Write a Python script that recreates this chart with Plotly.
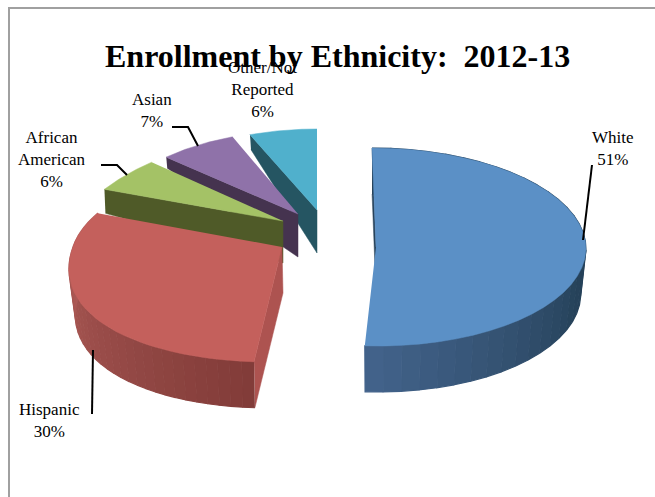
import math
import plotly.graph_objects as go

# Enrollment shares, clockwise from twelve o'clock
categories = ["White", "Hispanic", "African<br>American", "Asian", "Other/Not<br>Reported"]
shares = [51, 30, 6, 7, 6]
share_labels = ["51%", "30%", "6%", "7%", "6%"]

# Exploded-slice geometry for the tilted view
apex_x = [376, 282, 283, 298, 317]
apex_y = [247, 247, 221, 214, 210]
radius_x = [210, 209, 206, 189, 182]
radius_back = [99, 92, 86, 83, 81]
radius_front = [99, 115, 115, 115, 115]
skew_back = [-4, 0, 0, 0, 0]
skew_front = [-2, 13, 0, 0, 0]
foreshorten = [0.0, 0.14, 0.184, 0.064, 0.0]
wall_near = [46, 46, 42, 43, 43]
wall_far = [46, 46, 24, 11, 15]
ring_inset = [0.975, 0.97, 1.0, 1.0, 1.0]

top_colors = ["#5b90c6", "#c4605c", "#a4c266", "#8f72a9", "#50b0cc"]
cut_colors = ["#28435b", "#ad5350", "#4f5a28", "#45334f", "#255562"]
wall_left = [(66, 98, 138), (184, 98, 94)]
wall_right = [(38, 66, 90), (130, 60, 57)]
wall_fade = [0.42, 1.0]

# Label text placement and leader polylines
label_x = [613, 49, 52, 152, 262]
label_y = [148, 420, 159, 110, 89]
leader_x = [[592, 583], [92, 93], [101, 117, 127], [172, 188, 198], []]
leader_y = [[165, 240], [414, 350], [165, 165, 175], [127, 127, 146], []]

frame_x = [9, 9, 655]
frame_y = [497, 8, 8]


def project(i, theta, inset=1.0, drop=0.0):
    s, c = math.sin(theta), math.cos(theta)
    ry = radius_back[i] if c > 0 else radius_front[i]
    sk = skew_back[i] if c > 0 else skew_front[i]
    x = apex_x[i] + inset * (radius_x[i] * s * (1 - foreshorten[i] * c) + sk * c)
    y = apex_y[i] - ry * c + drop
    return x, y


def polygon(xs, ys, color, stroke=0.5):
    return go.Scatter(x=xs, y=ys, mode="lines", fill="toself", fillcolor=color,
                      line=dict(color=color, width=stroke), hoverinfo="skip", showlegend=False)


fig = go.Figure()
total = sum(shares)
angles = [0.0]
for v in shares:
    angles.append(angles[-1] + v / total * 2 * math.pi)

for i in [4, 3, 2, 0, 1]:
    a0, a1 = angles[i], angles[i + 1]
    n = 36
    arc = [a0 + (a1 - a0) * k / n for k in range(n + 1)]
    near, far = wall_near[i], wall_far[i]
    inset = ring_inset[i]

    # Flat cut face behind or beside the top surface
    tx, ty = project(i, a0)
    if i < 2:
        bx, by = project(i, a0, inset, near)
    else:
        bx, by = tx + 1, ty + far
    fig.add_trace(polygon([tx, apex_x[i], apex_x[i] + (1 if i == 1 else 0), bx],
                          [ty, apex_y[i], apex_y[i] + near, by], cut_colors[i]))

    # Banded outer wall on the two large slices
    if i < 2:
        for k in range(n):
            t0, t1 = arc[k], arc[k + 1]
            x0, y0 = project(i, t0)
            x1, y1 = project(i, t1)
            x2, y2 = project(i, t1, inset, near)
            x3, y3 = project(i, t0, inset, near)
            frac = min((1 - k / (n - 1)) / wall_fade[i], 1.0)
            shade = [round(wall_left[i][c] + (wall_right[i][c] - wall_left[i][c]) * frac) for c in range(3)]
            fig.add_trace(polygon([x0, x1, x2, x3], [y0, y1, y2, y3], "rgb(%d,%d,%d)" % tuple(shade), 1.2))

    # Top surface
    pts = [project(i, t) for t in arc]
    fig.add_trace(polygon([apex_x[i]] + [p[0] for p in pts], [apex_y[i]] + [p[1] for p in pts], top_colors[i]))

# Chart border
fig.add_trace(go.Scatter(x=frame_x, y=frame_y, mode="lines", line=dict(color="#a0a0a0", width=2),
                         hoverinfo="skip", showlegend=False))

# Leader lines
for xs, ys in zip(leader_x, leader_y):
    if xs:
        fig.add_trace(go.Scatter(x=xs, y=ys, mode="lines", line=dict(color="black", width=2),
                                 hoverinfo="skip", showlegend=False))

for name, pct, lx, ly in zip(categories, share_labels, label_x, label_y):
    fig.add_annotation(x=lx, y=ly, xref="x", yref="y", text=name + "<br>" + pct, showarrow=False,
                       font=dict(family="Liberation Serif", size=17, color="black"), align="center")

fig.add_annotation(x=337, y=56, xref="x", yref="y", text="<b>Enrollment by Ethnicity:  2012-13</b>",
                   showarrow=False, font=dict(family="Liberation Serif", size=32, color="black"))

fig.update_layout(width=655, height=497, margin=dict(l=0, r=0, t=0, b=0),
                  paper_bgcolor="white", plot_bgcolor="white", showlegend=False,
                  xaxis=dict(range=[0, 655], visible=False, fixedrange=True),
                  yaxis=dict(range=[497, 0], visible=False, fixedrange=True))

fig.write_html("out.html", config=dict(displayModeBar=False))
